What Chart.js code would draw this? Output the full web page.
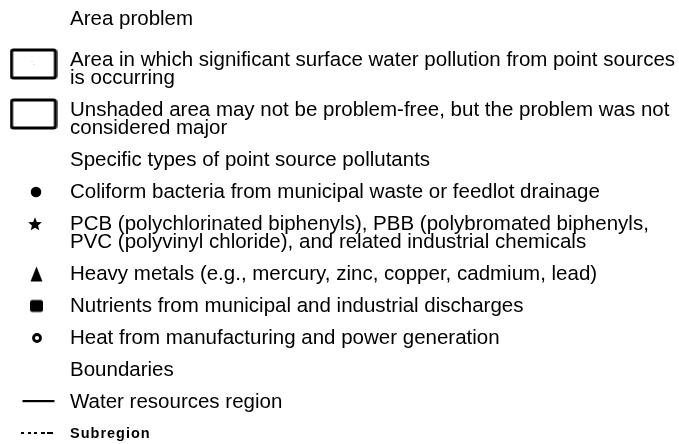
<!DOCTYPE html>
<html>
<head>
<meta charset="utf-8">
<script src="https://cdn.jsdelivr.net/npm/chart.js@4"></script>
<style>
  html, body { margin: 0; padding: 0; background: #fff; }
  canvas { display: block; }
</style>
</head>
<body>
<canvas id="legendChart" width="679" height="444"></canvas>
<script>
// legend rows, top to bottom. a row with no symbol is a heading
var rowText = [
  ["Area problem"],
  ["Area in which significant surface water pollution from point sources", "is occurring"],
  ["Unshaded area may not be problem-free, but the problem was not", "considered major"],
  ["Specific types of point source pollutants"],
  ["Coliform bacteria from municipal waste or feedlot drainage"],
  ["PCB (polychlorinated biphenyls), PBB (polybromated biphenyls,", "PVC (polyvinyl chloride), and related industrial chemicals"],
  ["Heavy metals (e.g., mercury, zinc, copper, cadmium, lead)"],
  ["Nutrients from municipal and industrial discharges"],
  ["Heat from manufacturing and power generation"],
  ["Boundaries"],
  ["Water resources region"],
  ["Subregion"]
];
var rowSymbol = [null, "shadedBox", "box", null, "dot", "star", "triangle", "square", "ring", null, "line", "dash"];

// legend layout (px)
var firstLine = 19, rowStep = 32, lineStep = 18, afterTitle = 9;
var textX = 70;
var markX = { shadedBox: 33.5, box: 33.5, dot: 36, star: 35, triangle: 36.5, square: 36.5, ring: 37, line: 38.5, dash: 37.5 };
var markDy = { shadedBox: 4, box: 4, line: -1, dash: -1 };

function makeCanvas(w, h, draw) {
  var c = document.createElement("canvas");
  c.width = w; c.height = h;
  var g = c.getContext("2d");
  g.fillStyle = "#000"; g.strokeStyle = "#000";
  draw(g);
  return c;
}

var symbols = {
  shadedBox: makeCanvas(48, 32, function (g) {
    g.lineWidth = 3.2;
    g.fillStyle = "#fff";
    g.beginPath(); g.roundRect(2, 2, 44, 28, 2); g.fill(); g.stroke();
    g.fillStyle = "#ccc";
    g.fillRect(22, 13, 1, 1); g.fillRect(24, 16, 1, 1);
  }),
  box: makeCanvas(48, 32, function (g) {
    g.lineWidth = 3.2;
    g.beginPath(); g.roundRect(2, 2, 44, 28, 2); g.stroke();
  }),
  dot: makeCanvas(12, 12, function (g) {
    g.beginPath(); g.arc(6, 6, 5.3, 0, Math.PI * 2); g.fill();
  }),
  star: makeCanvas(16, 16, function (g) {
    g.beginPath();
    for (var i = 0; i < 10; i++) {
      var r = i % 2 ? 3.2 : 7.2;
      var a = -Math.PI / 2 + i * Math.PI / 5;
      g.lineTo(8 + r * Math.cos(a), 8.5 + r * Math.sin(a));
    }
    g.closePath(); g.fill();
  }),
  triangle: makeCanvas(15, 17, function (g) {
    g.beginPath(); g.moveTo(7.5, 1); g.lineTo(13.5, 16); g.lineTo(1.5, 16); g.closePath(); g.fill();
  }),
  square: makeCanvas(15, 15, function (g) {
    g.beginPath(); g.roundRect(1, 1.5, 13, 12, 2.5); g.fill();
  }),
  ring: makeCanvas(12, 12, function (g) {
    g.lineWidth = 2.8;
    g.beginPath(); g.arc(6, 6, 3.5, 0, Math.PI * 2); g.stroke();
  }),
  line: makeCanvas(34, 4, function (g) {
    g.fillRect(1, 1, 32, 2.2);
  }),
  dash: makeCanvas(33, 4, function (g) {
    var segs = [[0, 3], [7, 3], [13, 3], [20, 4], [26, 6]];
    segs.forEach(function (s) { g.fillRect(s[0], 1, s[1], 2); });
  })
};

// where each row's first line sits
var rowY = [];
var y = firstLine;
rowText.forEach(function (lines, i) {
  rowY.push(y);
  y += rowStep + lineStep * (lines.length - 1) + (i === 0 ? afterTitle : 0);
});

var points = [], styles = [];
rowSymbol.forEach(function (s, i) {
  if (!s) return;
  points.push({ x: markX[s], y: rowY[i] + (markDy[s] || 0) });
  styles.push(symbols[s]);
});

var legendText = {
  id: "legendText",
  afterDatasetsDraw: function (chart) {
    var ctx = chart.ctx;
    var xs = chart.scales.x, ys = chart.scales.y;
    ctx.save();
    ctx.fillStyle = "#000";
    ctx.textBaseline = "middle";
    rowText.forEach(function (lines, i) {
      var last = i === rowText.length - 1;
      ctx.font = last ? "bold 14.5px 'Liberation Sans', Arial, sans-serif" : "20.5px 'Liberation Sans', Arial, sans-serif";
      ctx.letterSpacing = last ? "1px" : "0px";
      lines.forEach(function (t, k) {
        ctx.fillText(t, xs.getPixelForValue(textX), ys.getPixelForValue(rowY[i] + k * lineStep));
      });
    });
    ctx.restore();
  }
};

new Chart(document.getElementById("legendChart"), {
  type: "scatter",
  data: {
    datasets: [{
      data: points,
      pointStyle: styles,
      pointRadius: 6,
      pointHoverRadius: 6
    }]
  },
  options: {
    responsive: false,
    animation: false,
    devicePixelRatio: 1,
    layout: { padding: 0, autoPadding: false },
    plugins: { legend: { display: false }, tooltip: { enabled: false } },
    scales: {
      x: { type: "linear", min: 0, max: 679, display: false },
      y: { type: "linear", min: 0, max: 444, reverse: true, display: false }
    }
  },
  plugins: [legendText]
});
</script>
</body>
</html>
